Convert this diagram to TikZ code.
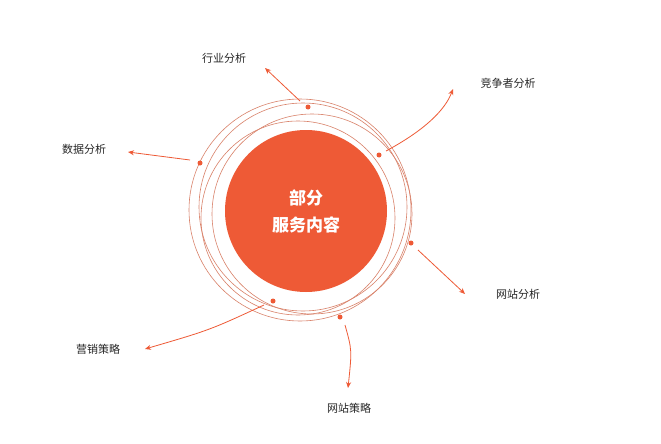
\documentclass[tikz,border=0pt]{standalone}
\usepackage{fontspec}
\newfontfamily\cjk{Noto Sans CJK SC}
\usetikzlibrary{arrows.meta}
\definecolor{org}{HTML}{EE5A36}
\definecolor{orb}{HTML}{D9826A}
\tikzset{
 dot/.style={circle,fill=org,inner sep=0pt,minimum size=5pt},
 lbl/.style={font=\cjk\fontsize{11}{13}\selectfont,text=black!85,inner sep=1pt},
 orbit/.style={draw=orb,line width=0.6pt},
 arr/.style={draw=org,line width=0.8pt,-{Stealth[length=6pt,width=5pt]}}
}
\begin{document}
\begin{tikzpicture}[x=1pt,y=-1pt]
\useasboundingbox (0,0) rectangle (661,444);
\fill[white] (0,0) rectangle (661,444);
\node[circle,fill=org,minimum size=162pt,inner sep=0pt,align=center,text=white,font=\cjk\bfseries\fontsize{17}{27}\selectfont] (c) at (306,211) {部分\\服务内容};
\draw[orbit] (303,207) circle (104);
\draw[orbit] (298,218) circle (97);
\draw[orbit] (312,214) circle (100);
\draw[orbit] (300,210) circle (111);
\node[dot] (d1) at (308,107) {};
\node[dot] (d2) at (379,155) {};
\node[dot] (d3) at (200,163) {};
\node[dot] (d4) at (411,243) {};
\node[dot] (d5) at (273,301) {};
\node[dot] (d6) at (340,317) {};
\node[lbl] (l1) at (224,58) {行业分析};
\node[lbl] (l2) at (508,83) {竞争者分析};
\node[lbl] (l3) at (84,149) {数据分析};
\node[lbl] (l4) at (518,294) {网站分析};
\node[lbl] (l5) at (98,349) {营销策略};
\node[lbl] (l6) at (349,408) {网站策略};
\coordinate (a1) at (300,101); \coordinate (e1) at (265,68);
\coordinate (a2) at (386,151); \coordinate (e2) at (453,89);
\coordinate (a3) at (190,160); \coordinate (e3) at (128,152);
\coordinate (a4) at (418,250); \coordinate (e4) at (465,294);
\coordinate (a5) at (264,305); \coordinate (e5) at (145,349);
\coordinate (a6) at (345,325); \coordinate (e6) at (348,388);
\draw[arr] (a1) -- (e1);
\draw[arr] (a2) .. controls (425,130) and (445,110) .. (e2);
\draw[arr] (a3) -- (e3);
\draw[arr] (a4) .. controls (440,270) .. (e4);
\draw[arr] (a5) .. controls (210,330) .. (e5);
\draw[arr] (a6) .. controls (352,350) .. (e6);
\end{tikzpicture}
\end{document}
